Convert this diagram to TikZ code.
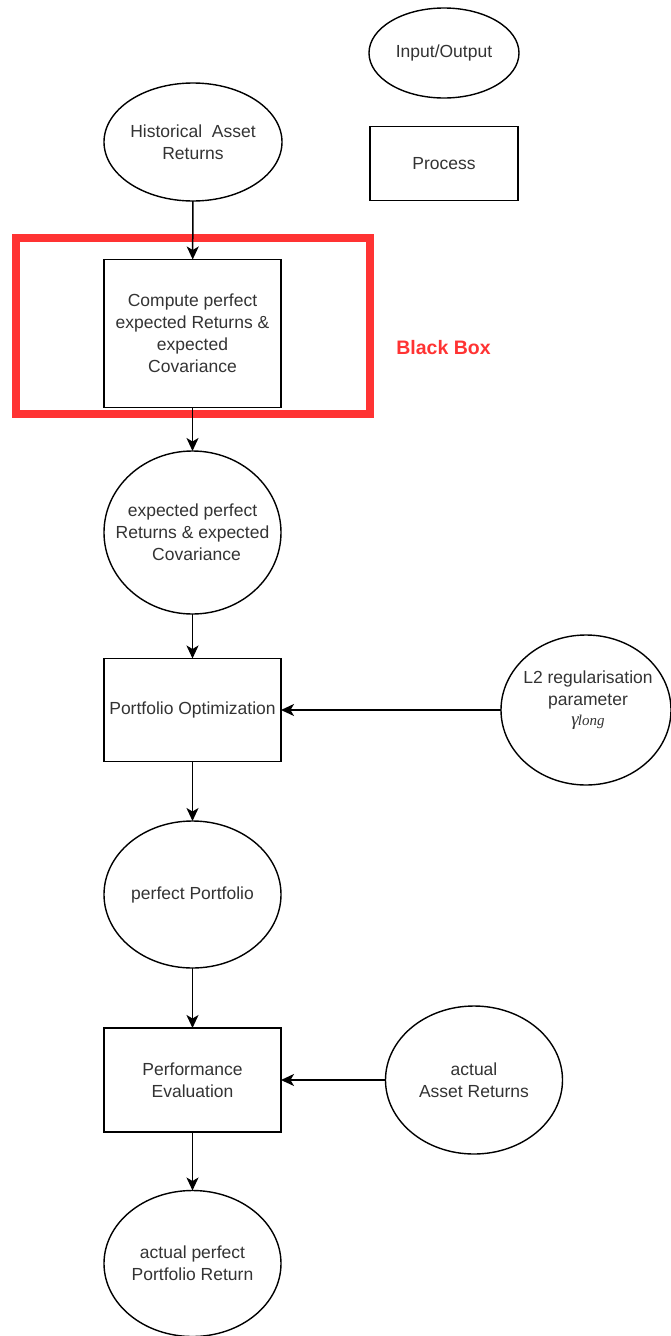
\documentclass[tikz,border=0pt]{standalone}
\usepackage{fontspec}
\setmainfont{Liberation Sans}
\newfontfamily\symbolserif{Liberation Serif}
\usetikzlibrary{shapes.geometric,arrows.meta}
\definecolor{ink}{HTML}{333333}
\definecolor{alarm}{HTML}{FF3333}
\begin{document}
\begin{tikzpicture}[x=1pt,y=-1pt,
  every node/.style={font=\fontsize{17.5}{22}\selectfont, text=ink},
  dims/.style 2 args={minimum width=#1pt, minimum height=#2pt},
  io/.style={draw=black, line width=1.4pt, ellipse, inner sep=0pt, outer sep=0pt},
  caption/.style={label={[align=center]center:#1}},
  proc/.style={draw=black, line width=1.4pt, rectangle, inner sep=0pt, outer sep=0pt, align=center},
  flow/.style={draw=black, line width=1.5pt, -{Stealth[length=13pt,width=12pt,inset=3.5pt]}}
]
\useasboundingbox (0,0) rectangle (670,1336);

% legend
\node[io, dims={150}{90}, caption={Input/Output}] (legio) at (444,53) {};
\node[proc, dims={148}{74.5}] (legproc) at (444,163.5) {Process};

% main flow
\node[io, dims={178}{118}, caption={Historical\ \ Asset\\Returns}] (hist) at (193,142) {};
\node[proc, dims={177}{148}] (compute) at (192.5,333.5)
  {Compute perfect\\expected Returns \&\\expected\\Covariance};
\node[draw=alarm, line width=7.5pt, inner sep=0pt, dims={354}{176}] (blackbox) at (193,326) {};
\node[font=\fontsize{19.5}{23}\selectfont\bfseries, text=alarm] (bblabel) at (443.5,348) {Black Box};

\node[io, dims={177}{163}, caption={expected perfect\\Returns \& expected\\\hspace*{8pt}Covariance}] (expect) at (192.5,532.5) {};
\node[proc, dims={177}{103}] (optim) at (192.5,710) {Portfolio Optimization};
\node[io, dims={170}{150}] (l2) at (586,710) {};
\node (l2text) at (588,700) [align=center]
  {L2 regularisation\\parameter\\[-2pt]{\symbolserif\itshape\fontsize{19}{20}\selectfont γ\kern-1pt\fontsize{15}{20}\selectfont long}};
\node[io, dims={177}{147}, caption={perfect Portfolio}] (perfect) at (192.5,894.5) {};
\node[proc, dims={177}{104}] (perf) at (192.5,1080) {Performance\\Evaluation};
\node[io, dims={177}{148}, caption={actual\\Asset Returns}] (actual) at (474,1080) {};
\node[io, dims={177}{146}, caption={actual perfect\\Portfolio Return}] (result) at (192.5,1263.5) {};

% connectors
\draw[flow] (hist) -- (compute);
\draw[flow] (compute) -- (expect);
\draw[flow] (expect) -- (optim);
\draw[flow] (l2.west) -- (optim.east);
\draw[flow] (optim) -- (perfect);
\draw[flow] (perfect) -- (perf);
\draw[flow] (actual.west) -- (perf.east);
\draw[flow] (perf) -- (result);
\end{tikzpicture}
\end{document}
